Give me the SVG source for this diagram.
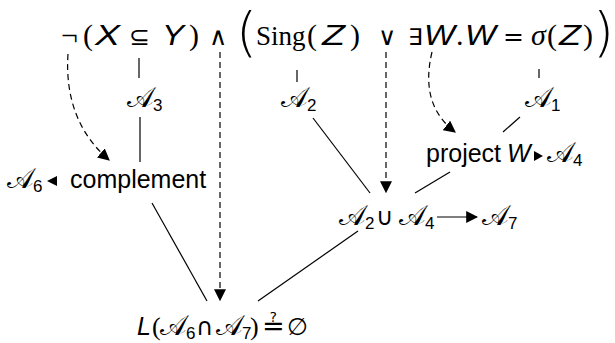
<svg xmlns="http://www.w3.org/2000/svg" width="615" height="343" viewBox="0 0 615 343">
<defs>
<marker id="ah" viewBox="0 0 10 10" refX="9" refY="5" markerWidth="12" markerHeight="12" markerUnits="userSpaceOnUse" orient="auto"><path d="M0,0 L10,5 L0,10 Z" fill="#000"/></marker>
</defs>
<style>
.m{font-family:"Liberation Serif","DejaVu Serif",serif;font-size:30px;fill:#000}
.b{font-family:"DejaVu Sans ExtraLight","DejaVu Sans",sans-serif;font-weight:200;font-size:54px;fill:#000}
.s{font-family:"DejaVu Sans",sans-serif;font-size:25px;fill:#000}
.v{font-family:"Liberation Sans",Arial,sans-serif;font-style:italic;font-size:30px;fill:#000}
.t{font-family:"Liberation Sans",Arial,sans-serif;font-size:25px;fill:#000}
.c{font-family:"DejaVu Serif","DejaVu Sans",serif;font-size:28px;fill:#000}
.sub{font-family:"Liberation Sans",Arial,sans-serif;font-size:17px}
.ln{stroke:#000;stroke-width:1.2;fill:none}
.da{stroke:#000;stroke-width:1.2;fill:none;stroke-dasharray:6,4}
</style>
<g id="formula">
<text class="m" x="61" y="45">¬</text>
<text class="m" x="83" y="45">(</text>
<text class="v" x="95" y="45" textLength="25" lengthAdjust="spacingAndGlyphs">X</text>
<text class="s" x="129" y="45">⊆</text>
<text class="v" x="162" y="45" textLength="22" lengthAdjust="spacingAndGlyphs">Y</text>
<text class="m" x="189" y="45">)</text>
<text class="s" x="209" y="45">∧</text>
<text class="b" x="236" y="51">(</text>
<text class="m" x="256" y="45" style="font-size:27px">Sing</text>
<text class="m" x="307" y="45">(</text>
<text class="v" x="322" y="45" textLength="23" lengthAdjust="spacingAndGlyphs">Z</text>
<text class="m" x="350" y="45">)</text>
<text class="s" x="378" y="45">∨</text>
<text class="s" x="408" y="45" style="font-size:23px">∃</text>
<text class="v" x="424" y="45" textLength="31" lengthAdjust="spacingAndGlyphs">W</text>
<text class="m" x="456" y="45">.</text>
<text class="v" x="465" y="45" textLength="31" lengthAdjust="spacingAndGlyphs">W</text>
<text class="s" x="503" y="45">=</text>
<text class="m" x="531" y="45" font-style="italic">σ</text>
<text class="m" x="547" y="45">(</text>
<text class="v" x="559" y="45" textLength="22" lengthAdjust="spacingAndGlyphs">Z</text>
<text class="m" x="583" y="45">)</text>
<text class="b" x="593" y="51">)</text>
</g>
<g id="A3"><text class="c" x="127" y="107">𝒜<tspan class="sub" dy="4">3</tspan></text></g>
<g id="A2"><text class="c" x="281" y="107">𝒜<tspan class="sub" dy="4">2</tspan></text></g>
<g id="A1"><text class="c" x="525" y="107">𝒜<tspan class="sub" dy="4">1</tspan></text></g>
<g id="complement">
<text class="c" x="7" y="188">𝒜<tspan class="sub" dy="4">6</tspan></text>
<polygon points="47,181 57,176 57,186" fill="#000"/>
<text class="t" x="70" y="188">complement</text>
</g>
<g id="project">
<text class="t" x="426" y="162">project</text>
<text class="v" x="507" y="162" style="font-size:25px">W</text>
<polygon points="534,151 534,161 543,156" fill="#000"/>
<text class="c" x="547" y="162">𝒜<tspan class="sub" dy="4">4</tspan></text>
</g>
<g id="union">
<text class="c" x="339" y="225">𝒜<tspan class="sub" dy="4">2</tspan></text>
<text class="s" x="376" y="225" style="font-size:24px">∪</text>
<text class="c" x="399" y="225">𝒜<tspan class="sub" dy="4">4</tspan></text>
</g>
<g id="A7"><text class="c" x="482" y="225">𝒜<tspan class="sub" dy="4">7</tspan></text></g>
<g id="result">
<text class="v" x="137" y="335" style="font-size:25px">L</text>
<text class="m" x="152" y="335" style="font-size:26px">(</text>
<text class="c" x="160" y="335">𝒜<tspan class="sub" dy="4">6</tspan></text>
<text class="s" x="196" y="335" style="font-size:24px">∩</text>
<text class="c" x="216" y="335">𝒜<tspan class="sub" dy="4">7</tspan></text>
<text class="m" x="250" y="335" style="font-size:26px">)</text>
<text class="s" x="262" y="335" style="font-size:27px">≟</text>
<text class="s" x="287" y="335" style="font-size:24px">∅</text>
</g>
<g id="connectors">
<line class="ln" x1="139" y1="58" x2="139" y2="78"/>
<line class="ln" x1="297" y1="70" x2="297" y2="82"/>
<line class="ln" x1="539" y1="69" x2="539" y2="78"/>
<line class="ln" x1="140" y1="117" x2="140" y2="162"/>
<line class="ln" x1="152" y1="203" x2="207" y2="301"/>
<line class="ln" x1="313" y1="118" x2="370" y2="193"/>
<line class="ln" x1="520" y1="117" x2="503" y2="132"/>
<line class="ln" x1="450" y1="172" x2="415" y2="193"/>
<line class="ln" x1="358" y1="231" x2="258" y2="301"/>
<line class="ln" x1="437" y1="217" x2="477" y2="217" marker-end="url(#ah)"/>
<path class="da" d="M68,54 C65,100 80,135 109,160" marker-end="url(#ah)"/>
<path class="da" d="M220,52 L220,300" marker-end="url(#ah)"/>
<path class="da" d="M386,52 L386,192" marker-end="url(#ah)"/>
<path class="da" d="M432,52 C423,90 433,115 455,132" marker-end="url(#ah)"/>
</g>
</svg>
